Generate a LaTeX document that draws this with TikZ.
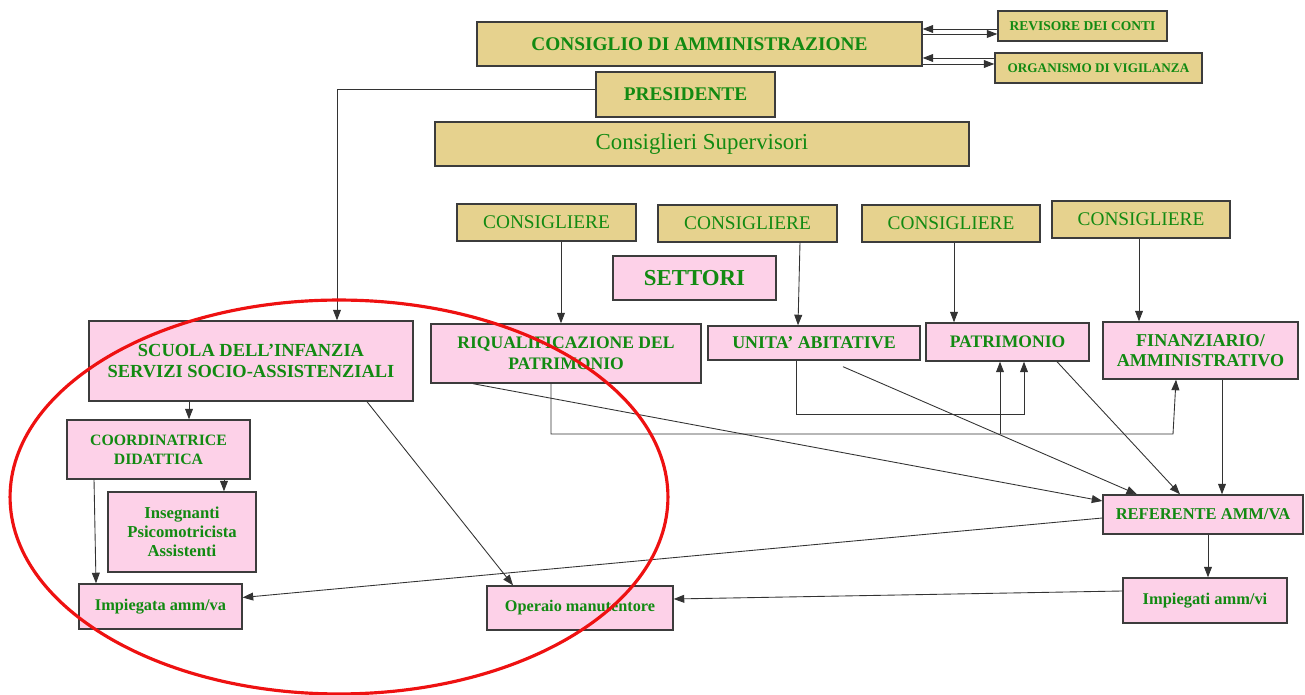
\documentclass[tikz,border=0pt]{standalone}
\usepackage{fontspec}
\setmainfont{Liberation Serif}
\usepackage{xcolor}
\usepackage{tikz}
\usetikzlibrary{arrows.meta}
\definecolor{gold}{HTML}{E6D28E}
\definecolor{pinkbox}{HTML}{FDD1E8}
\definecolor{txt}{HTML}{128A12}
\definecolor{edge}{HTML}{3C3C3C}
\definecolor{ring}{HTML}{EE1111}
\newcommand\fsz[2]{\fontsize{#1}{#2}\selectfont}
\tikzset{
  gbox/.style={draw=edge, fill=gold, text=txt, line width=0.8pt, inner sep=0pt, align=center},
  pbox/.style={draw=edge, fill=pinkbox, text=txt, line width=0.8pt, inner sep=0pt, align=center},
  sz/.style 2 args={minimum width=#1cm, minimum height=#2cm},
  link/.style={draw=black!80, line width=0.5pt, -{Triangle[length=6pt,width=4.5pt]}},
  wire/.style={draw=black!80, line width=0.5pt}
}

\begin{document}
\begin{tikzpicture}[x=0.02cm, y=-0.02cm]
\useasboundingbox (0,0) rectangle (1305,695);

% board
\node[gbox, sz={8.9}{0.88}, font=\fsz{11}{13}\bfseries] (cda) at (699.5,44) {CONSIGLIO DI AMMINISTRAZIONE};
\node[gbox, sz={3.38}{0.6}, font=\fsz{7.7}{9}\bfseries] (rev) at (1082.5,26) {REVISORE DEI CONTI};
\node[gbox, sz={4.14}{0.6}, font=\fsz{7.5}{9}\bfseries] (org) at (1098.5,68) {ORGANISMO DI VIGILANZA};
\node[gbox, sz={3.58}{0.9}, font=\fsz{11}{13}\bfseries] (pres) at (685.5,94.5) {PRESIDENTE};
\node[gbox, sz={10.68}{0.88}, font=\fsz{13}{15}] (sup) at (702,144) {Consiglieri Supervisori};

% councillors
\node[gbox, sz={3.58}{0.74}, font=\fsz{11}{13}] (cons1) at (546.5,222.5) {CONSIGLIERE};
\node[gbox, sz={3.58}{0.74}, font=\fsz{11}{13}] (cons2) at (747.5,223.5) {CONSIGLIERE};
\node[gbox, sz={3.56}{0.74}, font=\fsz{11}{13}] (cons3) at (951,223.5) {CONSIGLIERE};
\node[gbox, sz={3.56}{0.74}, font=\fsz{11}{13}] (cons4) at (1141,219.5) {CONSIGLIERE};
\node[pbox, sz={3.26}{0.88}, font=\fsz{13}{15}\bfseries] (sett) at (694.5,278) {SETTORI};

% sectors
\node[pbox, sz={6.48}{1.6}, font=\fsz{10.5}{12}\bfseries] (scuola) at (251,361) {SCUOLA DELL'INFANZIA\\SERVIZI SOCIO-ASSISTENZIALI};
\node[pbox, sz={5.4}{1.18}, font=\fsz{10}{12}\bfseries] (riq) at (566,353.5) {RIQUALIFICAZIONE DEL\\PATRIMONIO};
\node[pbox, sz={4.24}{0.68}, font=\fsz{10.2}{12}\bfseries] (unita) at (814,343) {UNITA' ABITATIVE};
\node[pbox, sz={3.26}{0.76}, font=\fsz{10}{12}\bfseries] (patr) at (1007.5,342) {PATRIMONIO};
\node[pbox, sz={3.9}{1.14}, font=\fsz{10.3}{11.5}\bfseries] (fin) at (1200.5,350.5) {FINANZIARIO/\\AMMINISTRATIVO};

% staff
\node[pbox, sz={3.66}{1.18}, font=\fsz{9}{10.8}\bfseries] (coord) at (158.5,449.5) {COORDINATRICE\\DIDATTICA};
\node[pbox, sz={2.96}{1.6}, font=\fsz{9.5}{10.8}\bfseries] (ins) at (182,532) {Insegnanti\\Psicomotricista\\Assistenti};
\node[pbox, sz={3.26}{0.9}, font=\fsz{9.3}{11}\bfseries] (impa) at (160.5,606.5) {Impiegata amm/va};
\node[pbox, sz={3.72}{0.88}, font=\fsz{9.25}{11}\bfseries] (oper) at (580,608) {Operaio manutentore};
\node[pbox, sz={4.0}{0.78}, font=\fsz{9.4}{11}\bfseries] (ref) at (1203,514.5) {REFERENTE AMM/VA};
\node[pbox, sz={3.28}{0.9}, font=\fsz{9.35}{11}\bfseries] (impi) at (1205,600.5) {Impiegati amm/vi};

% links of the board
\coordinate (r1) at (0,29);
\coordinate (r2) at (0,34);
\coordinate (o1) at (0,58);
\coordinate (o2) at (0,64);
\draw[link] (rev.west |- r1) -- (cda.east |- r1);
\draw[link] (cda.east |- r2) -- (rev.west |- r2);
\draw[link] (org.west |- o1) -- (cda.east |- o1);
\draw[link] (cda.east |- o2) -- (org.west |- o2);
\coordinate (pb) at (337,89);
\draw[link] (pres.west |- pb) -- (pb) -- (scuola.north -| pb);

% councillors to sectors
\draw[link] ([xshift=0.29cm]cons1.south) -- ([xshift=0.29cm]cons1.south |- riq.north);
\draw[link] ([xshift=1.05cm]cons2.south) -- ([xshift=-0.32cm]unita.north);
\draw[link] ([xshift=0.06cm]cons3.south) -- ([xshift=0.06cm]cons3.south |- patr.north);
\draw[link] ([xshift=-0.04cm]cons4.south) -- ([xshift=-0.04cm]cons4.south |- fin.north);

% school side
\draw[link] ([xshift=-1.24cm]scuola.south) -- ([xshift=-1.24cm]scuola.south |- coord.north);
\draw[link] ([xshift=1.31cm]coord.south) -- ([xshift=1.31cm]coord.south |- ins.north);
\draw[link] ([xshift=-1.29cm]coord.south) -- ([xshift=-1.25cm]coord.south |- impa.north);
\draw[link] ([xshift=2.32cm]scuola.south) -- ([xshift=-1.34cm]oper.north);

% sectors to referente
\coordinate (busA) at (0,434);
\coordinate (busB) at (0,414);
\draw[link] ([xshift=-0.3cm]riq.south) -- ([xshift=-0.3cm]riq.south |- busA) -- ([xshift=-0.55cm]fin.south |- busA) -- ([xshift=-0.49cm]fin.south);
\draw[link] ([xshift=-0.15cm]patr.south |- busA) -- ([xshift=-0.15cm]patr.south);
\draw[link] ([xshift=-0.36cm]unita.south) -- ([xshift=-0.36cm]unita.south |- busB) -- ([xshift=0.33cm]patr.south |- busB) -- ([xshift=0.33cm]patr.south);
\draw[link] ([xshift=-1.86cm]riq.south) -- ([yshift=0.27cm]ref.west);
\draw[link] ([shift={(0.58cm,-0.12cm)}]unita.south) -- ([xshift=-1.32cm]ref.north);
\draw[link] ([xshift=0.99cm]patr.south) -- ([xshift=-0.46cm]ref.north);
\draw[link] ([xshift=0.43cm]fin.south) -- ([xshift=0.43cm]fin.south |- ref.north);
\draw[link] ([xshift=0.1cm]ref.south) -- ([xshift=0.1cm]ref.south |- impi.north);
\draw[link] ([yshift=-0.07cm]ref.west) -- ([yshift=0.18cm]impa.east);
\draw[link] ([yshift=0.19cm]impi.west) -- ([yshift=0.18cm]oper.east);

% red ring
\draw[ring, line width=1.8pt] (339,497) ellipse [x radius=6.58cm, y radius=3.94cm];
\end{tikzpicture}
\end{document}
